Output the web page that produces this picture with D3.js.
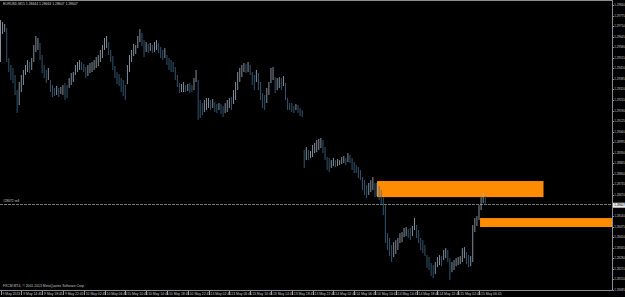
<!DOCTYPE html>
<html>
<head>
<meta charset="utf-8">
<script src="https://cdn.jsdelivr.net/npm/d3@7"></script>
<style>
body { margin: 0; background: #000; overflow: hidden; }
text { font-family: "Liberation Sans", Arial, sans-serif; }
</style>
</head>
<body>
<div id="chart"></div>
<script>
var symbol = "EURUSD,M15";
var lastOHLC = [1.28644, 1.28663, 1.28607, 1.28607];
var highs = [1.29748,1.29735,1.29723,1.29698,1.29513,1.29470,1.29452,1.29409,1.29316,1.29366,
    1.29409,1.29440,1.29470,1.29501,1.29489,1.29513,1.29594,1.29649,1.29637,1.29606,
    1.29532,1.29470,1.29440,1.29452,1.29378,1.29347,1.29329,1.29341,1.29329,1.29335,
    1.29347,1.29359,1.29347,1.29390,1.29421,1.29427,1.29470,1.29489,1.29501,1.29489,
    1.29476,1.29458,1.29470,1.29483,1.29489,1.29501,1.29520,1.29532,1.29563,1.29594,
    1.29637,1.29649,1.29612,1.29563,1.29526,1.29464,1.29427,1.29415,1.29390,1.29378,
    1.29347,1.29470,1.29532,1.29563,1.29600,1.29594,1.29649,1.29692,1.29668,1.29624,
    1.29612,1.29600,1.29606,1.29594,1.29612,1.29624,1.29606,1.29581,1.29563,1.29575,
    1.29532,1.29513,1.29501,1.29489,1.29458,1.29409,1.29359,1.29353,1.29366,1.29347,
    1.29353,1.29359,1.29347,1.29390,1.29440,1.29378,1.29255,1.29236,1.29255,1.29267,
    1.29267,1.29255,1.29261,1.29242,1.29230,1.29236,1.29230,1.29218,1.29236,1.29255,
    1.29267,1.29273,1.29316,1.29366,1.29427,1.29452,1.29470,1.29483,1.29476,1.29489,
    1.29470,1.29427,1.29409,1.29440,1.29421,1.29366,1.29298,1.29286,1.29329,1.29366,
    1.29452,1.29458,1.29396,1.29390,1.29396,1.29390,1.29403,1.29359,1.29267,1.29236,
    1.29236,1.29218,1.29230,1.29224,1.29206,1.29193,1.28947,1.28965,1.28947,1.28941,
    1.28978,1.28990,1.29008,1.29015,1.29021,1.29008,1.28965,1.28904,1.28898,1.28885,
    1.28898,1.28885,1.28891,1.28885,1.28904,1.28910,1.28898,1.28928,1.28916,1.28898,
    1.28873,1.28854,1.28842,1.28824,1.28781,1.28762,1.28731,1.28744,1.28762,1.28781,
    1.28744,1.28744,1.28725,1.28700,1.28657,1.28608,1.28435,1.28405,1.28362,1.28380,
    1.28392,1.28405,1.28435,1.28442,1.28467,1.28473,1.28460,1.28467,1.28479,1.28528,
    1.28485,1.28454,1.28405,1.28392,1.28362,1.28300,1.28288,1.28251,1.28238,1.28257,
    1.28288,1.28300,1.28294,1.28331,1.28343,1.28331,1.28281,1.28257,1.28269,1.28281,
    1.28288,1.28294,1.28343,1.28349,1.28318,1.28300,1.28294,1.28485,1.28528,1.28540,
    1.28608,1.28657,1.28682,1.28663];
var lows = [1.29489,1.29661,1.29674,1.29489,1.29427,1.29378,1.29359,1.29286,1.29175,1.29224,
    1.29304,1.29347,1.29409,1.29427,1.29421,1.29440,1.29489,1.29550,1.29563,1.29501,
    1.29421,1.29390,1.29359,1.29378,1.29304,1.29273,1.29279,1.29286,1.29273,1.29292,
    1.29286,1.29255,1.29267,1.29329,1.29347,1.29366,1.29409,1.29427,1.29440,1.29440,
    1.29427,1.29390,1.29403,1.29421,1.29427,1.29440,1.29452,1.29464,1.29489,1.29513,
    1.29563,1.29575,1.29532,1.29489,1.29440,1.29390,1.29353,1.29341,1.29304,1.29279,
    1.29255,1.29353,1.29427,1.29489,1.29526,1.29538,1.29575,1.29612,1.29587,1.29520,
    1.29550,1.29544,1.29557,1.29544,1.29550,1.29563,1.29544,1.29513,1.29501,1.29513,
    1.29470,1.29440,1.29427,1.29427,1.29378,1.29335,1.29298,1.29304,1.29304,1.29304,
    1.29310,1.29298,1.29304,1.29316,1.29366,1.29132,1.29144,1.29162,1.29181,1.29193,
    1.29206,1.29193,1.29206,1.29181,1.29175,1.29193,1.29169,1.29150,1.29175,1.29181,
    1.29206,1.29193,1.29230,1.29255,1.29316,1.29366,1.29396,1.29427,1.29421,1.29427,
    1.29409,1.29347,1.29316,1.29366,1.29316,1.29255,1.29206,1.29193,1.29236,1.29286,
    1.29359,1.29378,1.29298,1.29316,1.29329,1.29316,1.29341,1.29255,1.29193,1.29193,
    1.29181,1.29175,1.29193,1.29175,1.29156,1.29150,1.28836,1.28885,1.28885,1.28898,
    1.28904,1.28928,1.28934,1.28947,1.28959,1.28928,1.28885,1.28824,1.28811,1.28836,
    1.28848,1.28842,1.28848,1.28854,1.28861,1.28867,1.28854,1.28873,1.28867,1.28824,
    1.28805,1.28805,1.28774,1.28762,1.28700,1.28670,1.28651,1.28670,1.28688,1.28700,
    1.28657,1.28663,1.28639,1.28608,1.28546,1.28374,1.28331,1.28294,1.28257,1.28288,
    1.28306,1.28331,1.28374,1.28380,1.28411,1.28417,1.28405,1.28392,1.28417,1.28454,
    1.28405,1.28374,1.28331,1.28312,1.28294,1.28220,1.28208,1.28171,1.28158,1.28183,
    1.28226,1.28238,1.28232,1.28269,1.28281,1.28257,1.28146,1.28195,1.28208,1.28232,
    1.28238,1.28244,1.28257,1.28281,1.28244,1.28226,1.28232,1.28257,1.28442,1.28479,
    1.28516,1.28577,1.28620,1.28607];

var timeLabels = ["9 May 2013", "9 May 14:45", "9 May 18:45", "9 May 22:45", "10 May 02:45",
    "10 May 06:45", "10 May 10:45", "10 May 14:45", "10 May 18:45", "10 May 22:45",
    "13 May 02:45", "13 May 06:45", "13 May 10:45", "13 May 14:45", "13 May 18:45",
    "13 May 22:45", "14 May 02:45", "14 May 06:45", "14 May 10:45", "14 May 14:45",
    "14 May 18:45", "14 May 22:45", "15 May 02:45", "15 May 06:45"];
var barsPerLabel = 10;

var priceTicks = [1.29840, 1.29775, 1.29710, 1.29645, 1.29580, 1.29515, 1.29450, 1.29385,
    1.29320, 1.29255, 1.29190, 1.29125, 1.29060, 1.28995, 1.28930, 1.28865, 1.28800,
    1.28735, 1.28670, 1.28605, 1.28540, 1.28475, 1.28410, 1.28345, 1.28280, 1.28215,
    1.28150, 1.28085];

var bid = 1.28607;
var orderPrice = 1.28614;
var orderLabel = "#28072 sell";

// supply / demand zones (bar index from-to, price top-bottom)
var zoneFrom = [181, 230.5];
var zoneTo = [261, 320];
var zoneTop = [1.28756, 1.28528];
var zoneBottom = [1.28657, 1.28473];

var copyright = "FXCM MT4, \u00a9 2001-2013 MetaQuotes Software Corp.";

var W = 625, H = 297;
var plotRight = 612, plotBottom = 290;

var svg = d3.select("#chart").append("svg")
    .attr("width", W)
    .attr("height", H)
    .style("display", "block")
    .style("background", "#000");

var x = d3.scaleLinear().domain([0, 230]).range([0.5, 479]);
var y = d3.scaleLinear().domain([1.28085, 1.29840]).range([plotBottom, 5]);

var defs = svg.append("defs");
defs.append("clipPath").attr("id", "plot-clip")
    .append("rect")
    .attr("width", plotRight)
    .attr("height", plotBottom);

var plot = svg.append("g").attr("clip-path", "url(#plot-clip)");

// zones
plot.selectAll(".zone")
    .data(zoneFrom)
    .enter()
    .append("rect")
    .attr("class", "zone")
    .attr("x", (d, i) => x(d))
    .attr("y", (d, i) => y(zoneTop[i]))
    .attr("width", (d, i) => x(zoneTo[i]) - x(d))
    .attr("height", (d, i) => y(zoneBottom[i]) - y(zoneTop[i]))
    .style("fill", "#ff8c00");

// order line
plot.append("line")
    .attr("x1", 0).attr("x2", plotRight)
    .attr("y1", Math.round(y(orderPrice)) + 0.5)
    .attr("y2", Math.round(y(orderPrice)) + 0.5)
    .style("stroke", "#6f7d6f")
    .style("stroke-dasharray", "3,1")
    .style("stroke-width", 1);

plot.append("text")
    .attr("x", 3)
    .attr("y", y(orderPrice) - 2)
    .style("font-size", "3.2px")
    .style("fill", "#c8c8c8")
    .text(orderLabel);

// bars
var mids = highs.map((h, i) => (h + lows[i]) / 2);
plot.selectAll(".bar")
    .data(highs)
    .enter()
    .append("line")
    .attr("class", "bar")
    .attr("x1", (d, i) => x(i))
    .attr("x2", (d, i) => x(i))
    .attr("y1", d => y(d))
    .attr("y2", (d, i) => y(lows[i]))
    .style("stroke", (d, i) => i > 0 && mids[i] < mids[i - 1] ? "#3f6888" : "#a3b4c2")
    .style("stroke-width", 0.8);

// frame
svg.append("line")
    .attr("x1", 0).attr("x2", plotRight)
    .attr("y1", 0.5).attr("y2", 0.5)
    .style("stroke", "#8c8c8c");
svg.append("line")
    .attr("x1", plotRight + 0.5).attr("x2", plotRight + 0.5)
    .attr("y1", 0).attr("y2", plotBottom + 1)
    .style("stroke", "#8c8c8c");
svg.append("line")
    .attr("x1", 0).attr("x2", plotRight + 1)
    .attr("y1", plotBottom + 0.5).attr("y2", plotBottom + 0.5)
    .style("stroke", "#8c8c8c");

// price axis
var yAxis = svg.append("g").attr("class", "y axis");
yAxis.selectAll(".ptick")
    .data(priceTicks)
    .enter()
    .append("line")
    .attr("x1", plotRight).attr("x2", plotRight + 2)
    .attr("y1", d => Math.round(y(d)) + 0.5)
    .attr("y2", d => Math.round(y(d)) + 0.5)
    .style("stroke", "#8c8c8c");
yAxis.selectAll(".plabel")
    .data(priceTicks)
    .enter()
    .append("text")
    .attr("x", plotRight + 2.3)
    .attr("y", d => y(d) + 1)
    .style("font-size", "2.9px")
    .style("fill", "#c8c8c8")
    .text(d => d.toFixed(5));

// bid label
yAxis.append("rect")
    .attr("x", plotRight + 1)
    .attr("y", y(bid) - 2.5)
    .attr("width", W - plotRight)
    .attr("height", 5)
    .style("fill", "#e8e8e8");
yAxis.append("text")
    .attr("x", plotRight + 2.3)
    .attr("y", y(bid) + 1)
    .style("font-size", "2.9px")
    .style("fill", "#000")
    .text(bid.toFixed(5));

// time axis
var xAxis = svg.append("g").attr("class", "xAxis");
xAxis.selectAll(".ttick")
    .data(timeLabels)
    .enter()
    .append("line")
    .attr("x1", (d, i) => Math.round(x(i * barsPerLabel)) + 0.5)
    .attr("x2", (d, i) => Math.round(x(i * barsPerLabel)) + 0.5)
    .attr("y1", plotBottom)
    .attr("y2", plotBottom + 5)
    .style("stroke", "#8c8c8c");
xAxis.selectAll(".tlabel")
    .data(timeLabels)
    .enter()
    .append("text")
    .attr("x", (d, i) => x(i * barsPerLabel) + 2)
    .attr("y", plotBottom + 4.8)
    .style("font-size", "3.4px")
    .style("fill", "#c8c8c8")
    .text(d => d);

// header + copyright
svg.append("text")
    .attr("x", 3)
    .attr("y", 5)
    .style("font-size", "3.4px")
    .style("fill", "#d0d0d0")
    .text(symbol + "  " + lastOHLC.map(v => v.toFixed(5)).join(" "));

svg.append("text")
    .attr("x", 3)
    .attr("y", plotBottom - 3)
    .style("font-size", "3.4px")
    .style("fill", "#c0c0c0")
    .text(copyright);
</script>
</body>
</html>
